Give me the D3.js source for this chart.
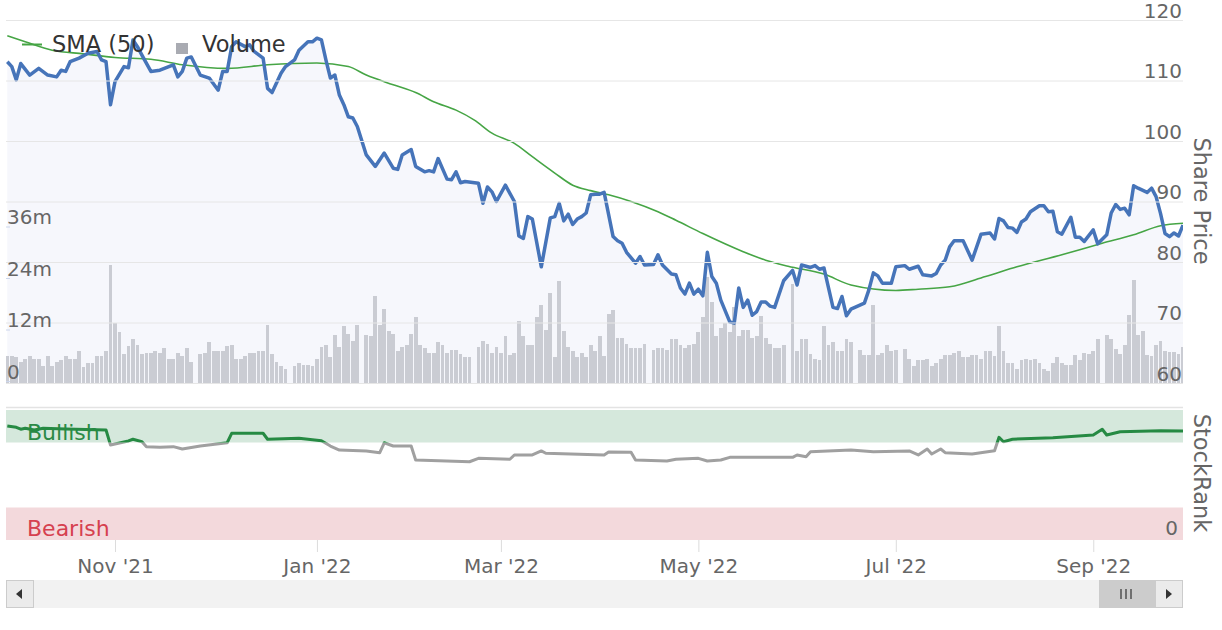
<!DOCTYPE html>
<html>
<head>
<meta charset="utf-8">
<script src="https://cdn.jsdelivr.net/npm/d3@7"></script>
<style>
  body { margin: 0; background: #fff; }
  svg { display: block; font-family: "DejaVu Sans", Verdana, sans-serif; }
</style>
</head>
<body>
<svg id="chart" width="1222" height="630"></svg>
<script>
// ---- data ----
// x positions are weekday slots counted from startDate (market holidays keep an empty slot)
const startDate = "2021-09-28";
const endDate = "2022-09-29";

const tickDates = ["2021-11-01", "2022-01-03", "2022-03-01", "2022-05-02", "2022-07-01", "2022-09-01"];
const tickLabels = ["Nov '21", "Jan '22", "Mar '22", "May '22", "Jul '22", "Sep '22"];

const priceTicks = [60, 70, 80, 90, 100, 110, 120];
const volumeTicks = [0, 12, 24, 36];

// [weekday slot, share price]
const price = [
  [0,113.1],[1,112.3],[2,110.1],[3,112.8],[5,110.9],[7,112.0],[9,110.9],[11,110.6],[12,111.7],[13,111.5],
  [14,113.1],[16,113.7],[18,114.5],[20,114.8],[21,113.4],[22,113.1],[23,106.0],[24,109.8],[26,112.3],[27,112.1],
  [28,116.7],[29,115.6],[30,114.2],[32,111.5],[34,111.7],[37,112.6],[38,110.6],[39,111.5],[40,113.7],[41,113.9],
  [43,110.9],[45,110.4],[47,108.4],[48,111.5],[49,111.5],[50,115.6],[51,116.4],[53,115.6],[54,115.9],[55,114.8],
  [57,113.7],[58,108.7],[59,108.0],[61,111.2],[62,112.3],[64,113.4],[65,115.0],[67,116.4],[68,116.4],[69,117.0],
  [70,116.7],[71,113.4],[72,110.4],[73,110.9],[74,107.6],[75,106.0],[76,104.0],[77,103.8],[78,102.4],[80,97.7],
  [82,95.8],[84,98.0],[86,95.5],[87,95.3],[88,97.7],[90,98.6],[91,95.8],[93,94.9],[94,95.1],[95,94.9],
  [96,97.1],[98,93.7],[99,93.6],[100,94.9],[101,93.1],[102,93.3],[105,93.0],[106,89.7],[107,92.4],[108,91.6],
  [109,90.0],[111,92.7],[113,90.0],[114,84.3],[115,83.9],[116,87.5],[117,87.1],[119,79.2],[121,87.3],[122,87.5],
  [123,89.7],[124,86.8],[125,87.9],[126,86.2],[127,87.1],[128,87.5],[129,88.1],[130,91.1],[131,91.2],[132,91.2],
  [133,91.5],[135,84.2],[136,83.5],[137,83.1],[138,81.6],[140,79.8],[141,80.9],[142,79.5],[144,79.6],[145,81.2],
  [146,79.5],[148,78.0],[149,77.9],[150,75.7],[151,74.7],[152,76.5],[153,74.7],[154,75.5],[155,74.4],[156,81.6],
  [157,77.6],[158,76.5],[159,73.7],[161,70.1],[162,69.9],[163,75.7],[164,72.5],[165,73.7],[166,71.2],[167,71.8],
  [168,73.4],[169,73.4],[170,72.7],[171,72.5],[173,76.9],[175,78.6],[176,76.2],[177,79.5],[179,79.1],[180,79.4],
  [181,78.8],[182,79.0],[184,72.5],[185,72.3],[186,74.3],[187,71.1],[188,72.2],[191,73.2],[192,75.4],[193,78.2],
  [194,77.7],[195,76.5],[197,76.5],[198,79.2],[200,79.4],[201,78.8],[203,79.3],[204,77.9],[206,77.7],[207,78.1],
  [208,79.5],[209,80.3],[210,82.5],[211,83.5],[213,83.5],[215,80.3],[217,84.6],[219,84.8],[220,83.8],[221,87.2],
  [222,86.8],[223,85.7],[224,85.6],[225,84.9],[226,86.6],[227,87.1],[228,88.3],[230,89.3],[231,89.3],[232,88.3],
  [233,88.4],[234,85.0],[235,84.6],[237,87.4],[238,84.1],[239,84.1],[240,83.4],[242,85.3],[243,83.0],[245,84.5],
  [246,88.1],[247,89.5],[248,88.7],[249,88.9],[250,87.8],[251,92.6],[252,92.2],[254,91.5],[255,92.2],[256,90.8],
  [257,88.0],[258,84.7],[259,84.2],[260,84.8],[261,84.3],[262,86.1]
];

// [weekday slot, 50 day moving average]
const sma = [
  [0,117.4],[4,116.4],[10,115.0],[17,114.4],[24,113.8],[32,113.5],[39,112.6],[49,112.0],[58,112.6],[69,112.9],
  [76,112.3],[80,110.9],[86,109.3],[91,108.0],[95,106.5],[100,105.1],[104,103.5],[108,101.3],[113,99.6],[117,97.4],
  [122,94.7],[126,92.7],[130,91.8],[134,91.1],[139,90.0],[145,88.3],[149,86.9],[155,84.7],[164,81.7],[169,80.3],
  [174,79.3],[182,78.0],[188,76.2],[198,75.3],[203,75.5],[210,75.9],[218,77.6],[225,79.2],[235,81.2],[244,83.1],
  [251,84.5],[257,86.0],[262,86.4]
];

// volume in millions, one per weekday slot (null = market closed)
const volume = [
  5.8, 5.8, 5.6, 4.5, 5.2, 5.8, 5.2, 5.2, 3.5, 5.8,
  3.5, 4.5, 4.8, 5.8, 5.2, 5.2, 7.1, 3.3, 4.1, 4.1,
  5.8, 5.8, 7.1, 27.1, 13.6, 11.4, 6.2, 8.1, 9.9, 8.5,
  6.2, 6.6, 6.6, 7.1, 6.6, 7.6, 5.2, 5.2, 6.6, 5.8,
  7.6, 4.4, null, 6.4, 6.6, 9.1, 7.1, 7.1, 6.9, 8.1,
  8.5, 5.2, 5.2, 5.9, 6.6, 6.6, 6.9, 7.1, 13.1, 6.2,
  4.4, 3.5, 2.9, null, 3.4, 4.1, 3.7, 3.7, 3.4, 5.1,
  8.0, 8.4, 5.7, 10.7, 8.0, 12.7, 11.0, 9.3, 13.0, null,
  10.7, 10.4, 19.7, 13.0, 16.7, 11.6, 11.0, 7.0, 8.0, 8.4,
  11.0, 15.0, 8.4, 7.6, 6.6, 6.6, 9.0, 8.4, 6.6, 7.3,
  7.3, 6.4, 5.7, 5.7, null, 8.0, 9.3, 8.7, 6.6, 8.0,
  6.6, 10.4, 6.0, 6.6, 14.0, 10.4, 8.4, 8.4, 15.0, 17.7,
  12.0, 20.6, 5.7, 23.3, 11.6, 8.0, 6.9, 5.5, 6.6, 5.7,
  8.4, 7.0, 10.6, 5.9, 15.7, 16.6, 10.1, 10.1, 8.7, 7.8,
  7.8, 7.8, 8.7, null, 7.3, 7.8, 7.8, 7.3, 9.7, 9.7,
  8.3, 7.8, 8.3, 8.7, 11.5, 14.8, 24.3, 18.5, 10.6, 12.4,
  13.4, 11.5, 17.3, 10.6, 12.0, 12.0, 10.1, 10.6, 15.2, 10.1,
  8.7, 7.8, 7.8, 8.3, null, 22.7, 7.0, 9.7, 9.7, 6.4,
  5.2, 4.8, 12.7, 8.4, 9.0, 7.0, 7.0, 9.7, 9.2, null,
  7.3, 6.0, 6.0, 17.7, 6.0, 6.6, 8.4, 7.0, 7.2, null,
  7.4, 5.1, 3.4, 4.8, 4.9, 5.1, 3.4, 4.1, 5.1, 6.0,
  6.0, 6.6, 7.0, 5.7, 5.7, 6.0, 6.0, 5.1, 7.0, 7.0,
  5.8, 12.7, 7.0, 4.1, 4.1, 2.8, 4.9, 5.1, 4.9, 5.1,
  4.1, 2.9, 2.3, 4.1, 5.5, 4.1, 3.7, 3.7, 6.0, 4.8,
  6.6, 6.4, 7.0, 9.7, null, 10.7, 9.7, 7.4, 6.4, 8.4,
  15.4, 23.6, 10.7, 11.6, 6.0, 5.8, 8.4, 9.3, 7.0, 6.7,
  6.8, 6.4, 7.9
];

// [weekday slot, StockRank]
const stockRank = [
  [0,87.7],[2,86.7],[3,85.2],[4,86.0],[6,84.6],[8,85.9],[13,85.4],[22,84.6],[23,73.1],[27,76.2],
  [28,77.5],[30,75.6],[31,71.8],[34,71.3],[37,71.8],[39,70.0],[43,72.3],[49,74.8],[50,82.1],[57,82.1],
  [58,77.5],[65,78.2],[70,76.4],[72,72.3],[74,69.2],[80,68.5],[83,67.2],[84,74.8],[86,72.3],[90,72.3],
  [91,61.5],[103,60.2],[105,62.8],[112,62.1],[113,65.4],[117,65.4],[119,68.5],[120,66.7],[133,65.4],[134,67.7],
  [139,67.5],[140,61.5],[147,60.8],[149,62.1],[154,62.8],[156,60.8],[159,61.5],[161,63.6],[175,63.6],[176,65.4],
  [178,64.1],[179,67.9],[188,69.2],[193,67.9],[201,68.5],[203,65.4],[205,70.0],[206,66.2],[208,70.0],[209,67.2],
  [215,66.2],[220,68.7],[221,79.0],[222,75.6],[224,77.5],[233,78.7],[242,80.8],[244,85.2],[245,80.8],[248,83.3],
  [257,84.1],[262,83.8]
];

const bullishFrom = 75;
const bearishTo = 25;

// ---- layout ----
const left = 6, right = 1183;
const svg = d3.select("#chart");

const parseDay = d3.timeParse("%Y-%m-%d");
const fmtDay = d3.timeFormat("%Y-%m-%d");

// weekday calendar
const days = d3.timeDay.range(parseDay(startDate), d3.timeDay.offset(parseDay(endDate), 1))
  .filter(d => d.getDay() !== 0 && d.getDay() !== 6);
const slotOf = new Map(days.map((d, i) => [fmtDay(d), i]));

const x = d3.scaleLinear().domain([-0.29, days.length - 1]).range([left, right]);
const yPrice = d3.scaleLinear().domain([60, 120]).range([383, 20]);
const yVol = d3.scaleLinear().domain([0, 36]).range([381, 226.5]);
const yRank = d3.scaleLinear().domain([0, 100]).range([540, 410]);

const defs = svg.append("defs");
defs.append("clipPath").attr("id", "clip-main")
  .append("rect").attr("x", left).attr("y", 0).attr("width", right - left).attr("height", 383);
defs.append("clipPath").attr("id", "clip-bull")
  .append("rect").attr("x", left).attr("y", 400).attr("width", right - left).attr("height", yRank(bullishFrom) - 400);
defs.append("clipPath").attr("id", "clip-rest")
  .append("rect").attr("x", left).attr("y", yRank(bullishFrom)).attr("width", right - left).attr("height", 100);

// ---- main panel ----
let main = svg.append("g").attr("clip-path", "url(#clip-main)");

// shaded area under the price line
main.append("path")
  .datum(price)
  .attr("fill", "#f6f7fc")
  .attr("d", d3.area().x(d => x(d[0])).y0(yPrice(60)).y1(d => yPrice(d[1])));

// grid lines
svg.append("g").selectAll("line")
  .data(priceTicks)
  .enter().append("line")
  .attr("x1", left).attr("x2", right)
  .attr("y1", d => yPrice(d) + 0.5).attr("y2", d => yPrice(d) + 0.5)
  .attr("stroke", "#e6e6e6").attr("stroke-width", 1);

// volume bars
main.append("g").selectAll("rect")
  .data(volume.map((v, i) => [i, v]).filter(d => d[1] != null))
  .enter().append("rect")
  .attr("x", d => x(d[0]) - 1.9)
  .attr("width", 3.8)
  .attr("y", d => yVol(d[1]))
  .attr("height", d => yVol(0) - yVol(d[1]) + 2)
  .attr("fill", "#caccd3")
  .attr("shape-rendering", "crispEdges");

// moving average
main.append("path")
  .datum(sma)
  .attr("fill", "none")
  .attr("stroke", "#46a545")
  .attr("stroke-width", 1.6)
  .attr("d", d3.line().x(d => x(d[0])).y(d => yPrice(d[1])).curve(d3.curveMonotoneX));

// share price
main.append("path")
  .datum(price)
  .attr("fill", "none")
  .attr("stroke", "#4674b9")
  .attr("stroke-width", 3.5)
  .attr("stroke-linejoin", "round")
  .attr("d", d3.line().x(d => x(d[0])).y(d => yPrice(d[1])));

// price axis (right)
let priceAxis = svg.append("g")
  .attr("transform", "translate(" + (right - 1) + ",0)")
  .call(d3.axisLeft(yPrice).tickValues(priceTicks).tickSize(0).tickPadding(0));
priceAxis.select(".domain").remove();
priceAxis.selectAll("text")
  .attr("dy", null).attr("y", -3)
  .attr("fill", "#666").style("font-size", "20px").style("font-family", "DejaVu Sans");

// volume axis (left)
let volAxis = svg.append("g")
  .attr("transform", "translate(" + left + ",0)")
  .call(d3.axisRight(yVol).tickValues(volumeTicks).tickSize(4)
    .tickFormat(d => d === 0 ? "0" : d + "m"));
volAxis.select(".domain").remove();
volAxis.selectAll("line").attr("stroke", "#ccd6eb");
volAxis.selectAll("text")
  .attr("x", 1).attr("dy", null).attr("y", -3)
  .attr("fill", "#666").style("font-size", "20px").style("font-family", "DejaVu Sans");

svg.append("text")
  .attr("transform", "translate(1202,201) rotate(90)")
  .attr("text-anchor", "middle").attr("dy", "0.35em")
  .attr("fill", "#666").style("font-size", "22.5px")
  .text("Share Price");

// legend
let legend = svg.append("g");
legend.append("line")
  .attr("x1", 22).attr("x2", 42).attr("y1", 44.5).attr("y2", 44.5)
  .attr("stroke", "#46a545").attr("stroke-width", 2);
legend.append("text")
  .attr("x", 52).attr("y", 52)
  .attr("fill", "#333").style("font-size", "22.5px")
  .text("SMA (50)");
legend.append("rect")
  .attr("x", 176).attr("y", 43).attr("width", 12).attr("height", 11)
  .attr("fill", "#a9abb2");
legend.append("text")
  .attr("x", 202).attr("y", 52)
  .attr("fill", "#333").style("font-size", "22.5px")
  .text("Volume");

// ---- StockRank panel ----
svg.append("line")
  .attr("x1", left).attr("x2", right).attr("y1", 407.5).attr("y2", 407.5)
  .attr("stroke", "#e3e3e3").attr("stroke-width", 1.5);

svg.append("rect")
  .attr("x", left).attr("width", right - left)
  .attr("y", yRank(100)).attr("height", yRank(bullishFrom) - yRank(100))
  .attr("fill", "#d5e8dc");
svg.append("rect")
  .attr("x", left).attr("width", right - left)
  .attr("y", yRank(bearishTo)).attr("height", yRank(0) - yRank(bearishTo))
  .attr("fill", "#f3d9dc");

svg.append("text")
  .attr("x", 27).attr("y", 440)
  .attr("fill", "#2b8a46").style("font-size", "22px")
  .text("Bullish");
svg.append("text")
  .attr("x", 27).attr("y", 536)
  .attr("fill", "#d6404f").style("font-size", "22px")
  .text("Bearish");

const rankLine = d3.line().x(d => x(d[0])).y(d => yRank(d[1]));
svg.append("path")
  .datum(stockRank)
  .attr("clip-path", "url(#clip-rest)")
  .attr("fill", "none").attr("stroke", "#a0a0a0").attr("stroke-width", 3)
  .attr("stroke-linejoin", "round")
  .attr("d", rankLine);
svg.append("path")
  .datum(stockRank)
  .attr("clip-path", "url(#clip-bull)")
  .attr("fill", "none").attr("stroke", "#268a43").attr("stroke-width", 3)
  .attr("stroke-linejoin", "round")
  .attr("d", rankLine);

svg.append("text")
  .attr("x", 1178).attr("y", 535)
  .attr("text-anchor", "end")
  .attr("fill", "#666").style("font-size", "20px")
  .text("0");

svg.append("text")
  .attr("transform", "translate(1202,473) rotate(90)")
  .attr("text-anchor", "middle").attr("dy", "0.35em")
  .attr("fill", "#666").style("font-size", "22.5px")
  .text("StockRank");

// ---- x axis ----
let xAxis = svg.append("g")
  .attr("transform", "translate(0,540)")
  .call(d3.axisBottom(x)
    .tickValues(tickDates.map(d => slotOf.get(d)))
    .tickFormat((d, i) => tickLabels[i])
    .tickSize(12));
xAxis.select(".domain").remove();
xAxis.selectAll("line").attr("stroke", "#dcdcdc");
xAxis.selectAll("text")
  .attr("dy", null).attr("y", 33)
  .attr("fill", "#666").style("font-size", "20px").style("font-family", "DejaVu Sans");

// ---- scrollbar ----
let bar = svg.append("g");
bar.append("rect")
  .attr("x", left).attr("y", 580).attr("width", right - left).attr("height", 28)
  .attr("rx", 2).attr("fill", "#f2f2f2");
bar.append("rect")
  .attr("x", left + 0.5).attr("y", 580.5).attr("width", 27).attr("height", 27)
  .attr("fill", "#ebebeb").attr("stroke", "#cccccc");
bar.append("path")
  .attr("d", "M16,594 L22,589 L22,599 Z").attr("fill", "#333");
bar.append("rect")
  .attr("x", 1099).attr("y", 580).attr("width", 57).attr("height", 28)
  .attr("fill", "#cccccc");
bar.selectAll(".grip")
  .data([1121, 1126, 1131])
  .enter().append("line")
  .attr("x1", d => d).attr("x2", d => d).attr("y1", 589).attr("y2", 599)
  .attr("stroke", "#333").attr("stroke-width", 1.2);
bar.append("rect")
  .attr("x", 1155.5).attr("y", 580.5).attr("width", 27).attr("height", 27)
  .attr("fill", "#ebebeb").attr("stroke", "#cccccc");
bar.append("path")
  .attr("d", "M1172,594 L1166,589 L1166,599 Z").attr("fill", "#333");
</script>
</body>
</html>
